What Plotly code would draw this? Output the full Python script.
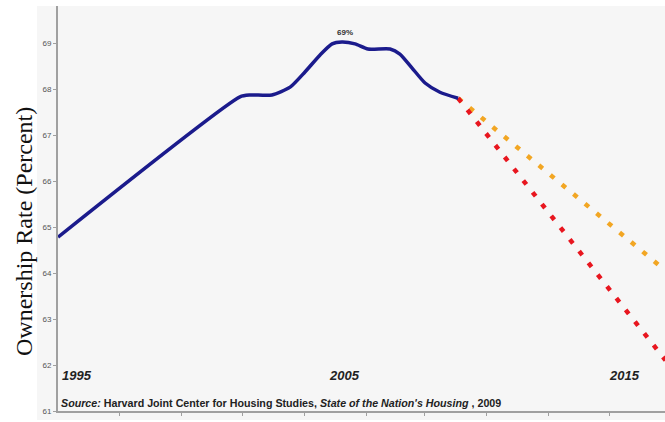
import plotly.graph_objects as go

# Historical ownership rate (blue line)
hist_years = [1995.0, 2001.5, 2001.86, 2002.64, 2003.29, 2003.82, 2004.36, 2004.79,
              2005.14, 2005.61, 2006.07, 2006.86, 2007.21, 2007.64, 2008.11, 2008.64, 2009.29]
hist_rate = [64.78, 67.83, 67.87, 67.87, 68.04, 68.37, 68.74, 68.98,
             69.02, 68.98, 68.87, 68.87, 68.76, 68.46, 68.13, 67.93, 67.80]

# Projections
proj_years = [2009.29, 2016.7]
proj_orange = [67.80, 64.05]
proj_red = [67.80, 62.10]

year_labels = ["1995", "2005", "2015"]
year_label_x = [1995.07, 2004.6, 2014.6]
y_ticks = [61, 62, 63, 64, 65, 66, 67, 68, 69]
x_ticks = [1997.2, 1999.4, 2001.6, 2003.8, 2006.0, 2008.1, 2010.3, 2012.5, 2014.7]

GRAY_BG = "#f6f6f6"
AXIS = "#a0a0a0"

fig = go.Figure()
fig.add_trace(go.Scatter(x=proj_years, y=proj_orange, mode="lines",
                         line=dict(color="#f2a623", width=4.5, dash="5px,10px"),
                         hoverinfo="skip"))
fig.add_trace(go.Scatter(x=proj_years, y=proj_red, mode="lines",
                         line=dict(color="#e8161f", width=4.5, dash="5px,10px"),
                         hoverinfo="skip"))
fig.add_trace(go.Scatter(x=hist_years, y=hist_rate, mode="lines",
                         line=dict(color="#1b1b8c", width=3.5, shape="spline", smoothing=0.6),
                         hoverinfo="skip"))

annotations = []
for t, xv in zip(year_labels, year_label_x):
    annotations.append(dict(x=xv, y=61.78, xref="x", yref="y", text="<b><i>" + t + "</i></b>",
                            showarrow=False, xanchor="left", yanchor="middle",
                            font=dict(family="Liberation Sans", size=13, color="#222")))
annotations.append(dict(x=2005.25, y=69.22, xref="x", yref="y", text="<b>69%</b>",
                        showarrow=False, xanchor="center", yanchor="middle",
                        font=dict(family="Liberation Sans", size=8, color="#333")))
annotations.append(dict(x=1995.05, y=61.17, xref="x", yref="y",
                        text="<b><i>Source:</i> Harvard Joint Center for Housing Studies, <i>State of the Nation's Housing</i> , 2009</b>",
                        showarrow=False, xanchor="left", yanchor="middle",
                        font=dict(family="Liberation Sans", size=10.7, color="#222")))
annotations.append(dict(x=-0.056, y=0.442, xref="paper", yref="paper",
                        text="Ownership Rate (Percent)", textangle=-90,
                        showarrow=False, xanchor="center", yanchor="middle",
                        font=dict(family="Liberation Serif", size=24, color="#111")))

fig.update_layout(
    width=665, height=422,
    margin=dict(l=58, r=0, t=6, b=11),
    paper_bgcolor="white",
    plot_bgcolor=GRAY_BG,
    showlegend=False,
    annotations=annotations,
    shapes=[dict(type="rect", xref="paper", yref="paper", x0=-0.0346, x1=1.0,
                 y0=-0.0222, y1=1.0, fillcolor=GRAY_BG, line=dict(width=0), layer="below")],
    xaxis=dict(range=[1995, 1995 + 607 / 28], showgrid=False, zeroline=False,
               showline=True, linecolor=AXIS, linewidth=2,
               ticks="outside", ticklen=3, tickcolor=AXIS, tickwidth=1,
               tickvals=x_ticks, showticklabels=False),
    yaxis=dict(range=[61, 61 + 405 / 46], showgrid=False, zeroline=False,
               showline=True, linecolor=AXIS, linewidth=2,
               ticks="outside", ticklen=3, tickcolor=AXIS, tickwidth=1,
               tickvals=y_ticks, ticktext=[str(v) for v in y_ticks],
               tickfont=dict(family="Liberation Sans", size=8, color="#555")),
)

fig.write_html("out.html")
